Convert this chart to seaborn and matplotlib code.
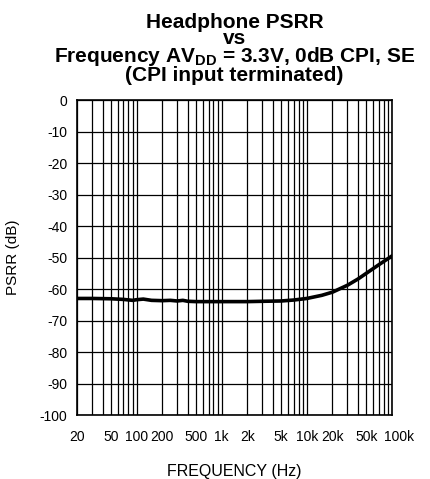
import numpy as np
import pandas as pd
import matplotlib
matplotlib.use("Agg")
import matplotlib.pyplot as plt
import matplotlib.ticker as mticker
import matplotlib.transforms as mtransforms
import seaborn as sns

# valores
freq_hz = [20, 30, 50, 70, 90, 100, 120, 150, 200, 250, 300, 350, 400, 500,
           1000, 2000, 3000, 5000, 7000, 10000, 15000, 20000, 30000, 40000,
           50000, 70000, 100000]
psrr_db = [-63.0, -63.0, -63.1, -63.3, -63.6, -63.4, -63.2, -63.6, -63.7, -63.6,
           -63.8, -63.6, -63.9, -64.0, -64.0, -64.0, -63.9, -63.8, -63.5, -63.0,
           -62.0, -61.0, -58.8, -56.8, -55.0, -52.3, -49.5]

x_ticks = [20, 50, 100, 200, 500, 1000, 2000, 5000, 10000, 20000, 50000, 100000]
x_tick_labels = ['20', '50', '100', '200', '500', '1k', '2k', '5k', '10k', '20k', '50k', '100k']
y_ticks = list(range(0, -101, -10))

df = pd.DataFrame({'freq': freq_hz, 'psrr': psrr_db})

sns.set_style("white")
plt.rcParams['font.family'] = ['Liberation Sans', 'DejaVu Sans']
plt.rcParams['text.color'] = 'black'
plt.rcParams['axes.labelcolor'] = 'black'
plt.rcParams['xtick.color'] = 'black'
plt.rcParams['ytick.color'] = 'black'
plt.rcParams['mathtext.fontset'] = 'custom'
plt.rcParams['mathtext.rm'] = 'Liberation Sans:bold'
plt.rcParams['mathtext.bf'] = 'Liberation Sans:bold'

fig = plt.figure(figsize=(4.31, 4.79), dpi=100)
ax = fig.add_axes([0.1787, 0.1336, 0.7308, 0.6576])

sns.lineplot(data=df, x='freq', y='psrr', color='black', linewidth=2.6, ax=ax)

ax.set_xscale('log')
ax.set_xlim(20, 100000)
ax.set_ylim(-100, 0)

ax.xaxis.set_major_locator(mticker.FixedLocator(x_ticks))
ax.xaxis.set_major_formatter(mticker.FixedFormatter(x_tick_labels))
ax.xaxis.set_minor_locator(mticker.LogLocator(base=10, subs=np.arange(1, 10)))
ax.xaxis.set_minor_formatter(mticker.NullFormatter())
ax.set_yticks(y_ticks)
ax.set_yticklabels([str(v) for v in y_ticks])

ax.grid(True, which='both', axis='x', color='black', linewidth=0.9)
ax.grid(True, which='major', axis='y', color='black', linewidth=0.9)
ax.tick_params(axis='both', which='both', length=0, labelsize=10)
ax.tick_params(axis='x', pad=11)
ax.tick_params(axis='y', pad=7)
for s in ax.spines.values():
    s.set_color('black')
    s.set_linewidth(1.2)

# o rótulo 100k fica um pouco deslocado para a direita no original
fig.canvas.draw()
ultimo = ax.get_xticklabels()[-1]
ultimo.set_transform(ultimo.get_transform() + mtransforms.ScaledTranslation(7 / 100, 0, fig.dpi_scale_trans))

ax.set_xlabel('FREQUENCY (Hz)', fontsize=11.5)
ax.xaxis.set_label_coords(0.5, -0.155)
ax.set_ylabel('PSRR (dB)', fontsize=11)
ax.yaxis.set_label_coords(-0.181, 0.5)
ax.set_title('Headphone PSRR\nvs\nFrequency AV$_{\\mathbf{DD}}$ = 3.3V, 0dB CPI, SE\n(CPI input terminated)',
             fontsize=15, fontweight='bold', linespacing=0.82, pad=14)

fig.savefig('out.png', dpi=100)
